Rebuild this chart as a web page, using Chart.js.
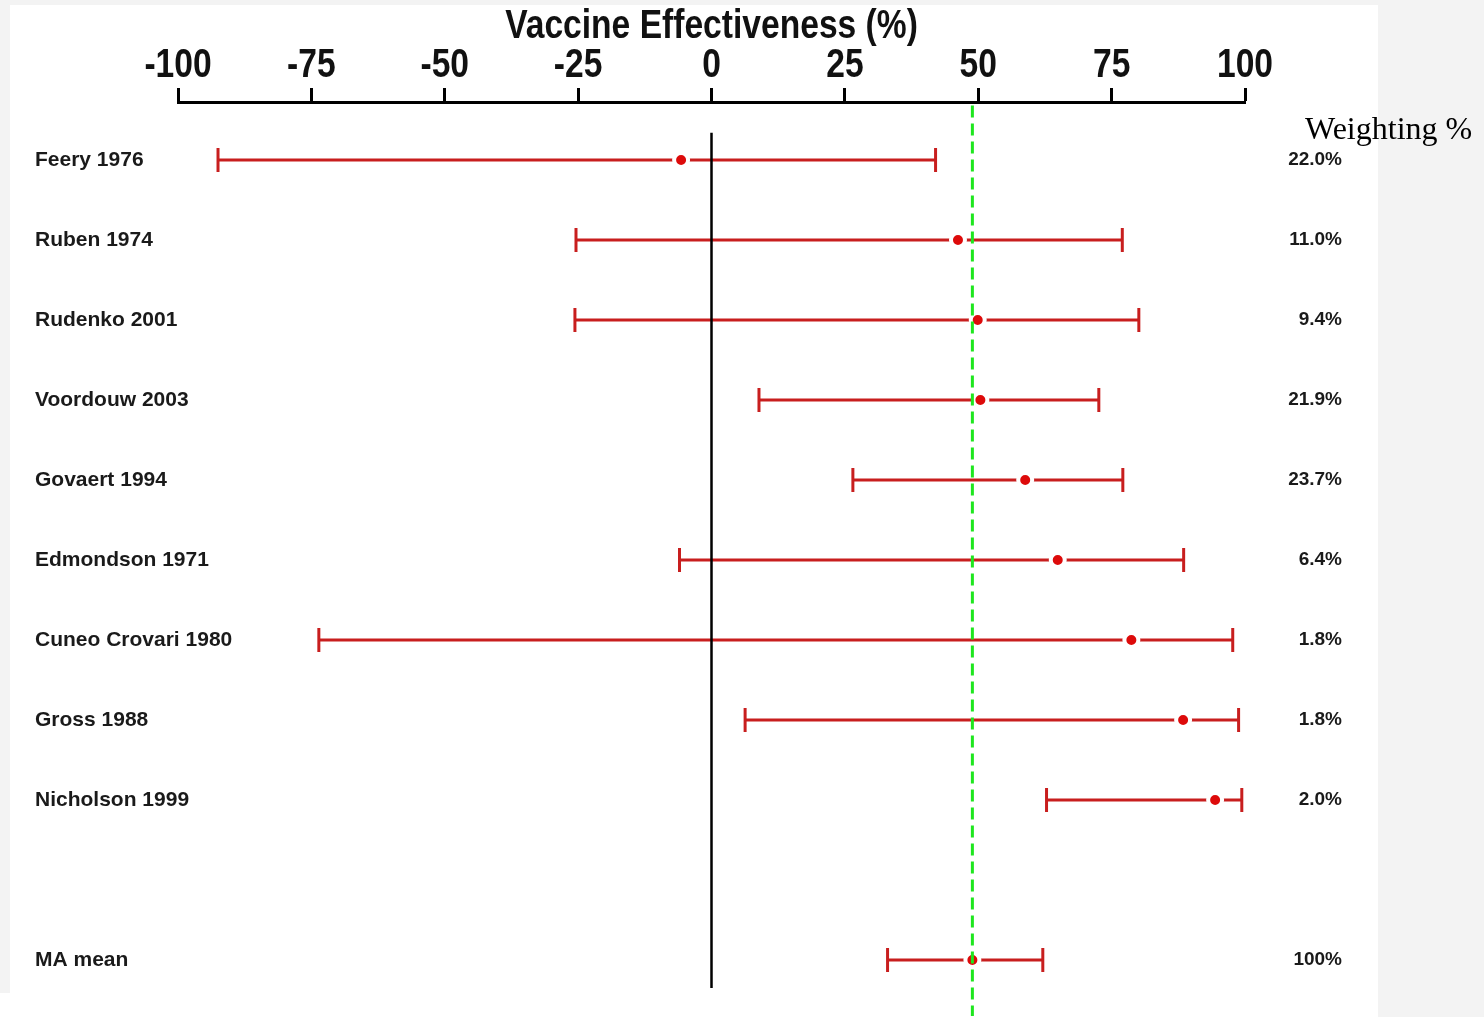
<!DOCTYPE html>
<html>
<head>
<meta charset="utf-8">
<script src="https://cdn.jsdelivr.net/npm/chart.js@4/dist/chart.umd.min.js"></script>
<style>
  html, body { margin: 0; padding: 0; background: #f3f3f3; }
  body { width: 1484px; height: 1017px; position: relative; overflow: hidden; }
  #panel { position: absolute; left: 10px; top: 5px; width: 1368px; height: 1012px; background: #fff; }
  #panelFoot { position: absolute; left: 0; top: 993px; width: 1378px; height: 24px; background: #fff; }
  #wrap { position: absolute; left: 0; top: 0; width: 1484px; height: 1017px; }
  #weightTitle { position: absolute; left: 1305px; top: 110px; font: 32px "Liberation Serif", "DejaVu Serif", serif; color: #000; white-space: nowrap; }
</style>
</head>
<body>
<div id="panel"></div>
<div id="panelFoot"></div>
<div id="wrap"><canvas id="chart" width="1484" height="1017"></canvas></div>
<div id="weightTitle">Weighting %</div>
<script>
// studies, top to bottom (row 9 is left empty before the pooled mean)
const studies = ["Feery 1976", "Ruben 1974", "Rudenko 2001", "Voordouw 2003", "Govaert 1994",
                 "Edmondson 1971", "Cuneo Crovari 1980", "Gross 1988", "Nicholson 1999", "MA mean"];
const rowIndex = [0, 1, 2, 3, 4, 5, 6, 7, 8, 10];
const estimates = [-5.7, 46.2, 49.9, 50.4, 58.8, 64.9, 78.7, 88.4, 94.4, 48.9];
const lowerCI   = [-92.5, -25.4, -25.6, 8.9, 26.5, -6.0, -73.6, 6.3, 62.8, 33.0];
const upperCI   = [42.0, 77.0, 80.1, 72.6, 77.1, 88.5, 97.7, 98.8, 99.4, 62.1];
const weights   = ["22.0%", "11.0%", "9.4%", "21.9%", "23.7%", "6.4%", "1.8%", "1.8%", "2.0%", "100%"];
const meanEffect = 48.9;
const zeroLineSpan = [-0.34, 10.35];
const meanLineSpan = [-0.68, 10.75];
const axisTitle = "Vaccine Effectiveness (%)";

const red = "#c81e1e";
const dotRed = "#dd0a0a";
const sans = "'Liberation Sans', Arial, sans-serif";

const datasets = [];

// reference lines
datasets.push({
    data: [{ x: meanEffect, y: meanLineSpan[0] }, { x: meanEffect, y: meanLineSpan[1] }],
    showLine: true, borderColor: "#1ee61e", borderWidth: 3, borderDash: [12, 6],
    pointRadius: 0, order: 0
});
datasets.push({
    data: [{ x: 0, y: zeroLineSpan[0] }, { x: 0, y: zeroLineSpan[1] }],
    showLine: true, borderColor: "#000", borderWidth: 2.5,
    pointRadius: 0, order: 1
});

// point estimates (white ring gives the little gap in the line)
datasets.push({
    data: estimates.map((v, i) => ({ x: v, y: rowIndex[i] })),
    pointRadius: 7, pointBorderWidth: 4,
    pointBackgroundColor: dotRed, pointBorderColor: "#fff",
    order: 2
});

// confidence intervals with end caps
studies.forEach((s, i) => {
    datasets.push({
        data: [{ x: lowerCI[i], y: rowIndex[i] }, { x: upperCI[i], y: rowIndex[i] }],
        showLine: true, borderColor: red, borderWidth: 3,
        pointStyle: "line", pointRotation: 90, pointRadius: 12,
        pointBorderWidth: 3, pointBorderColor: red, pointBackgroundColor: red,
        order: 3
    });
});

const rowTicks = (scale) => { scale.ticks = rowIndex.map(v => ({ value: v })); };

// narrow bold labels on the top axis (no narrow face installed, so squeeze the text)
const narrowTop = {
    id: "narrowTop",
    afterDraw(chart) {
        const sc = chart.scales.x;
        const ctx = chart.ctx;
        const squeeze = 0.84;
        ctx.save();
        ctx.fillStyle = "#111";
        ctx.font = "bold 40px " + sans;
        ctx.textAlign = "center";
        ctx.textBaseline = "alphabetic";
        sc.ticks.forEach((t, i) => {
            ctx.save();
            ctx.translate(sc.getPixelForTick(i), sc.bottom - 25);
            ctx.scale(squeeze, 1);
            ctx.fillText(String(t.value), 0, 0);
            ctx.restore();
        });
        ctx.translate((sc.left + sc.right) / 2, sc.top + 38);
        ctx.scale(squeeze, 1);
        ctx.fillText(axisTitle, 0, 0);
        ctx.restore();
    }
};

new Chart(document.getElementById("chart").getContext("2d"), {
    type: "scatter",
    data: { datasets: datasets },
    plugins: [narrowTop],
    options: {
        responsive: false,
        animation: false,
        devicePixelRatio: 1,
        layout: { autoPadding: false, padding: { left: 35, right: 142, top: 0, bottom: 1 } },
        plugins: { legend: { display: false }, tooltip: { enabled: false } },
        scales: {
            x: {
                type: "linear",
                position: "top",
                min: -100, max: 100,
                afterFit: (scale) => { scale.height = 102; scale.paddingLeft = 0; scale.paddingRight = 0; },
                ticks: { stepSize: 25, display: false },
                grid: { display: true, drawOnChartArea: false, drawTicks: true, tickLength: 14, tickWidth: 3, tickColor: "#000" },
                border: { display: true, width: 3, color: "#000" }
            },
            y: {
                type: "linear",
                position: "left",
                reverse: true,
                min: -0.725, max: 10.7,
                afterBuildTicks: rowTicks,
                afterFit: (scale) => { scale.width = 143; scale.paddingTop = 0; scale.paddingBottom = 0; },
                ticks: {
                    autoSkip: false, mirror: true, padding: -143, crossAlign: "near", color: "#1a1a1a",
                    font: { family: sans, size: 21, weight: "bold" },
                    callback: (v) => studies[rowIndex.indexOf(v)]
                },
                grid: { display: false },
                border: { display: false }
            },
            w: {
                type: "linear",
                position: "right",
                reverse: true,
                min: -0.725, max: 10.7,
                afterBuildTicks: rowTicks,
                afterFit: (scale) => { scale.width = 97; scale.paddingTop = 0; scale.paddingBottom = 0; },
                ticks: {
                    autoSkip: false, padding: 0, crossAlign: "far", color: "#1a1a1a",
                    font: { family: sans, size: 19, weight: "bold" },
                    callback: (v) => weights[rowIndex.indexOf(v)]
                },
                grid: { display: false },
                border: { display: false }
            }
        }
    }
});
</script>
</body>
</html>
